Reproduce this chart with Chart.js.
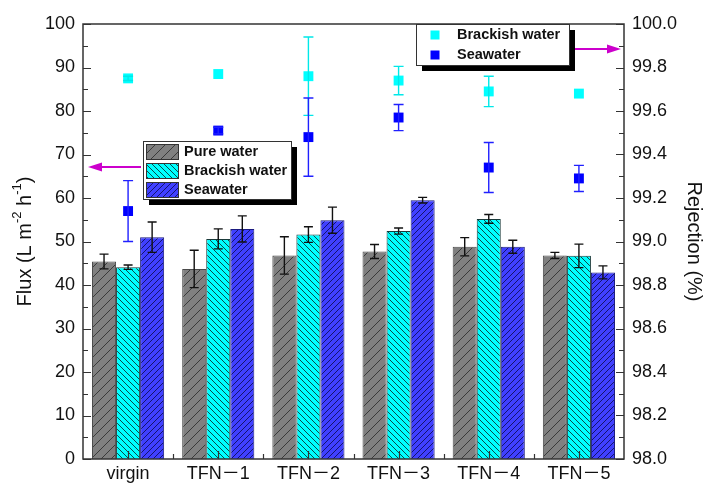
<!DOCTYPE html>
<html>
<head>
<meta charset="utf-8">
<script src="https://cdn.jsdelivr.net/npm/chart.js@4.4.0/dist/chart.umd.min.js"></script>
<style>
  body { margin: 0; background: #fff; }
  #wrap { width: 708px; height: 483px; }
</style>
</head>
<body>
<div id="wrap"><canvas id="flux" width="708" height="483"></canvas></div>
<script>
// values
const categories = ['virgin', 'TFN－1', 'TFN－2', 'TFN－3', 'TFN－4', 'TFN－5'];

const pureFlux = [45.4, 43.7, 46.8, 47.7, 48.8, 46.8];
const pureErr = [1.7, 4.3, 4.3, 1.6, 2.1, 0.7];
const brackishFlux = [44.1, 50.6, 51.6, 52.4, 55.2, 46.7];
const brackishErr = [0.5, 2.3, 1.8, 0.7, 1.0, 2.7];
const seaFlux = [51.0, 52.9, 54.9, 59.5, 48.8, 42.9];
const seaErr = [3.5, 3.0, 3.0, 0.65, 1.5, 1.5];

const brackishRej = [99.75, 99.77, 99.76, 99.74, 99.69, 99.68];
const brackishRejErr = [0.01, 0, 0.18, 0.065, 0.07, 0];
const seaRej = [99.14, 99.51, 99.48, 99.57, 99.34, 99.29];
const seaRejErr = [0.14, 0.015, 0.18, 0.06, 0.115, 0.06];

const fluxTicks = { min: 0, max: 100, step: 10 };
const rejTicks = { min: 98, max: 100, step: 0.2 };

const FONT = "'Liberation Sans', Arial, 'Noto Sans CJK SC', sans-serif";

var ctx = document.getElementById('flux').getContext('2d');

function hatch(bg, fg, size, dir) {
    let c = document.createElement('canvas');
    c.width = size; c.height = size;
    let g = c.getContext('2d');
    g.fillStyle = bg;
    g.fillRect(0, 0, size, size);
    g.strokeStyle = fg;
    g.lineWidth = 1;
    g.beginPath();
    if (dir > 0) {
        g.moveTo(0, size); g.lineTo(size, 0);
        g.moveTo(-1, 1); g.lineTo(1, -1);
        g.moveTo(size - 1, size + 1); g.lineTo(size + 1, size - 1);
    } else {
        g.moveTo(0, 0); g.lineTo(size, size);
        g.moveTo(-1, size - 1); g.lineTo(1, size + 1);
        g.moveTo(size - 1, -1); g.lineTo(size + 1, 1);
    }
    g.stroke();
    return ctx.createPattern(c, 'repeat');
}

const purePat = hatch('#808080', '#3a3a3a', 10, 1);
const brackPat = hatch('#00FFFF', '#0a4a4a', 6, -1);
const seaPat = hatch('#4040FF', '#14146e', 6, 1);

// error bars for every dataset that has an "errors" array
const errorBars = {
    id: 'errorBars',
    afterDatasetsDraw(chart) {
        const c = chart.ctx;
        chart.data.datasets.forEach((ds, i) => {
            if (!ds.errors) return;
            const meta = chart.getDatasetMeta(i);
            const scale = chart.scales[meta.yAxisID];
            c.save();
            c.strokeStyle = ds.errColor;
            c.lineWidth = 1.4;
            meta.data.forEach((el, j) => {
                const e = ds.errors[j];
                if (!e) return;
                const v = ds.data[j];
                const x = el.x;
                const y1 = scale.getPixelForValue(v + e);
                const y2 = scale.getPixelForValue(v - e);
                const w = ds.capWidth / 2;
                c.beginPath();
                c.moveTo(x, y1); c.lineTo(x, y2);
                c.moveTo(x - w, y1); c.lineTo(x + w, y1);
                c.moveTo(x - w, y2); c.lineTo(x + w, y2);
                c.stroke();
            });
            c.restore();
        });
    }
};

function arrow(c, x1, x2, y) {
    const dir = x2 > x1 ? 1 : -1;
    c.save();
    c.strokeStyle = '#CC00CC';
    c.fillStyle = '#CC00CC';
    c.lineWidth = 2;
    c.beginPath();
    c.moveTo(x1, y); c.lineTo(x2 - dir * 12, y);
    c.stroke();
    c.beginPath();
    c.moveTo(x2, y);
    c.lineTo(x2 - dir * 14, y - 4.5);
    c.lineTo(x2 - dir * 14, y + 4.5);
    c.closePath();
    c.fill();
    c.restore();
}

function richTitle(c, parts, cx, cy, rot) {
    c.save();
    c.translate(cx, cy);
    c.rotate(rot);
    c.fillStyle = '#111';
    c.textBaseline = 'middle';
    c.textAlign = 'left';
    let total = 0;
    parts.forEach(p => {
        c.font = (p.sup ? '13px ' : '20px ') + FONT;
        total += c.measureText(p.t).width;
    });
    let x = -total / 2;
    parts.forEach(p => {
        c.font = (p.sup ? '13px ' : '20px ') + FONT;
        c.fillText(p.t, x, p.sup ? -8 : 0);
        x += c.measureText(p.t).width;
    });
    c.restore();
}

const decorations = {
    id: 'decorations',
    afterDraw(chart) {
        const c = chart.ctx;
        const a = chart.chartArea;
        const y = chart.scales.y, y1 = chart.scales.y1, x = chart.scales.x;
        c.save();
        c.strokeStyle = '#333';
        c.lineWidth = 1.5;
        c.strokeRect(a.left, a.top, a.right - a.left, a.bottom - a.top);
        c.lineWidth = 1.2;
        c.beginPath();
        // left axis ticks
        for (let v = fluxTicks.min; v <= fluxTicks.max; v += fluxTicks.step / 2) {
            const py = Math.round(y.getPixelForValue(v)) + 0.5;
            const len = (v % fluxTicks.step === 0) ? 8 : 5;
            c.moveTo(a.left, py); c.lineTo(a.left + len, py);
        }
        // right axis ticks
        for (let k = 0; k <= 20; k++) {
            const v = rejTicks.min + k * 0.1;
            const py = Math.round(y1.getPixelForValue(v)) + 0.5;
            const len = (k % 2 === 0) ? 8 : 5;
            c.moveTo(a.right, py); c.lineTo(a.right - len, py);
        }
        // x axis ticks: major at centres, minor at boundaries
        categories.forEach((cat, i) => {
            const px = Math.round(x.getPixelForValue(i)) + 0.5;
            c.moveTo(px, a.bottom); c.lineTo(px, a.bottom - 8);
            if (i > 0) {
                const pb = Math.round((x.getPixelForValue(i) + x.getPixelForValue(i - 1)) / 2) + 0.5;
                c.moveTo(pb, a.bottom); c.lineTo(pb, a.bottom - 5);
            }
        });
        c.stroke();

        // axis titles
        richTitle(c, [{ t: 'Flux (L m' }, { t: '-2', sup: true }, { t: ' h' }, { t: '-1', sup: true }, { t: ')' }],
            25, (a.top + a.bottom) / 2, -Math.PI / 2);
        richTitle(c, [{ t: 'Rejection (%)' }], 694, (a.top + a.bottom) / 2, Math.PI / 2);

        // arrows
        arrow(c, 141, 88, 167);
        arrow(c, 572, 621, 49);

        // bar legend
        c.fillStyle = '#000';
        c.fillRect(149, 147, 148, 58);
        c.fillStyle = '#fff';
        c.fillRect(143, 141, 148, 58);
        c.strokeStyle = '#333';
        c.lineWidth = 1;
        c.strokeRect(143.5, 141.5, 148, 58);
        const barItems = [['Pure water', purePat], ['Brackish water', brackPat], ['Seawater', seaPat]];
        c.font = 'bold 14.5px ' + FONT;
        c.textBaseline = 'middle';
        c.textAlign = 'left';
        barItems.forEach((it, i) => {
            const ty = 144 + i * 19;
            c.fillStyle = it[1];
            c.fillRect(146, ty, 32, 15);
            c.strokeStyle = '#333';
            c.strokeRect(146.5, ty + 0.5, 32, 15);
            c.fillStyle = '#111';
            c.fillText(it[0], 184, ty + 8);
        });

        // rejection legend
        c.fillStyle = '#000';
        c.fillRect(422, 30, 153, 41);
        c.fillStyle = '#fff';
        c.fillRect(416, 24, 153, 41);
        c.strokeStyle = '#333';
        c.strokeRect(416.5, 24.5, 153, 41);
        [['Brackish water', '#00FFFF', 35], ['Seawater', '#0000FF', 55]].forEach(it => {
            c.fillStyle = it[1];
            c.fillRect(430.5, it[2] - 4.5, 9, 9);
            c.fillStyle = '#111';
            c.fillText(it[0], 457, it[2]);
        });
        c.restore();
    }
};

var fluxChart = new Chart(ctx, {
    type: 'bar',
    data: {
        labels: categories,
        datasets: [
            {
                type: 'line', label: 'Brackish water rejection', data: brackishRej, yAxisID: 'y1',
                showLine: false, pointStyle: 'rect', pointRadius: 7, pointBackgroundColor: '#00FFFF',
                pointBorderColor: '#00FFFF', pointBorderWidth: 0,
                errors: brackishRejErr, errColor: '#00E8E8', capWidth: 10, order: 0
            },
            {
                type: 'line', label: 'Seawater rejection', data: seaRej, yAxisID: 'y1',
                showLine: false, pointStyle: 'rect', pointRadius: 7, pointBackgroundColor: '#0000FF',
                pointBorderColor: '#0000FF', pointBorderWidth: 0,
                errors: seaRejErr, errColor: '#2020FF', capWidth: 10, order: 0
            },
            {
                label: 'Pure water', data: pureFlux, yAxisID: 'y', backgroundColor: purePat,
                borderColor: '#4a4a4a', borderWidth: 1, errors: pureErr, errColor: '#111', capWidth: 9, order: 1
            },
            {
                label: 'Brackish water', data: brackishFlux, yAxisID: 'y', backgroundColor: brackPat,
                borderColor: '#1a3a3a', borderWidth: 1, errors: brackishErr, errColor: '#111', capWidth: 9, order: 1
            },
            {
                label: 'Seawater', data: seaFlux, yAxisID: 'y', backgroundColor: seaPat,
                borderColor: '#1a1a80', borderWidth: 1, errors: seaErr, errColor: '#111', capWidth: 9, order: 1
            }
        ]
    },
    options: {
        responsive: false,
        animation: false,
        layout: { padding: { top: 24, left: 0, right: 0, bottom: 0 } },
        datasets: { bar: { categoryPercentage: 0.8, barPercentage: 1.0 } },
        plugins: { legend: { display: false }, tooltip: { enabled: false } },
        scales: {
            x: {
                offset: true,
                grid: { display: false, drawTicks: false },
                border: { display: false },
                ticks: { font: { family: FONT, size: 18 }, color: '#111', padding: 4, maxRotation: 0, autoSkip: false },
                afterFit: s => { s.height = 24; }
            },
            y: {
                position: 'left',
                min: fluxTicks.min, max: fluxTicks.max,
                grid: { display: false, drawTicks: false },
                border: { display: false },
                ticks: { stepSize: fluxTicks.step, font: { family: FONT, size: 18 }, color: '#111', padding: 8 },
                afterFit: s => { s.width = 83; }
            },
            y1: {
                position: 'right',
                min: rejTicks.min, max: rejTicks.max,
                grid: { display: false, drawTicks: false },
                border: { display: false },
                ticks: {
                    stepSize: rejTicks.step, font: { family: FONT, size: 18 }, color: '#111', padding: 8,
                    callback: v => Number(v).toFixed(1)
                },
                afterFit: s => { s.width = 84; }
            }
        }
    },
    plugins: [errorBars, decorations]
});
</script>
</body>
</html>
